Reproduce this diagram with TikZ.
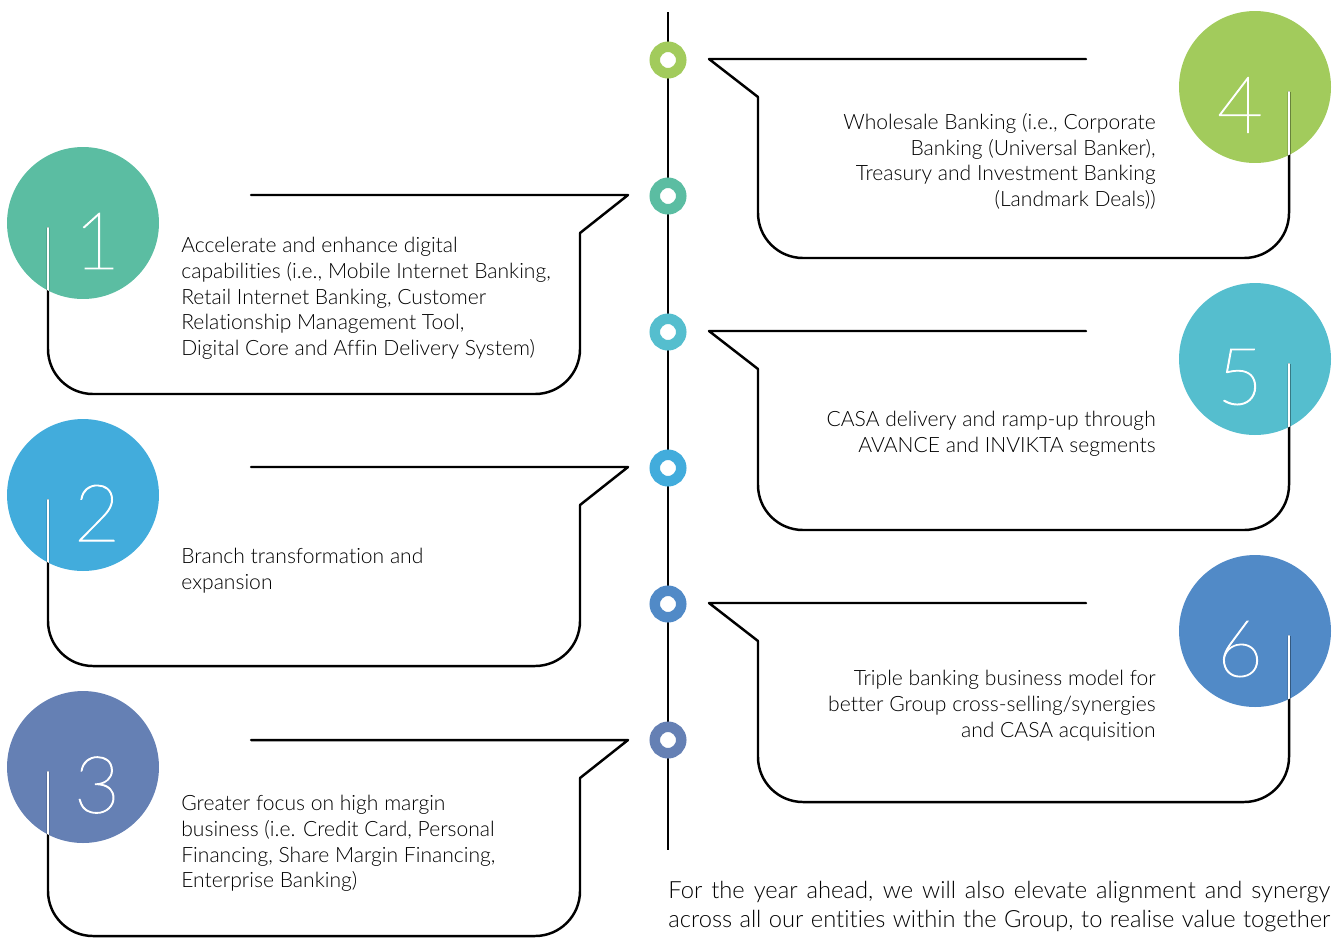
\documentclass[tikz,border=0pt]{standalone}
\usepackage{fontspec}
\setmainfont{Lato Light}[Ligatures=NoCommon]
\newfontfamily\digitfont{Lato Hairline}[FakeBold=1.3]
\usepackage{xcolor}
\usetikzlibrary{positioning,calc}
\definecolor{cone}{HTML}{5BBDA2}
\definecolor{ctwo}{HTML}{42ACDC}
\definecolor{cthree}{HTML}{6580B4}
\definecolor{cfour}{HTML}{A2CB5C}
\definecolor{cfive}{HTML}{55BECE}
\definecolor{csix}{HTML}{518AC7}
\tikzset{
  badge/.style={circle, fill=#1, minimum size=3.04cm, inner sep=0pt},
  digit/.style={text=white, font=\digitfont\fontsize{45}{45}\selectfont, inner sep=0pt},
  ring/.style={circle, draw=#1, fill=white, line width=0.21cm, minimum size=0.53cm, inner sep=0pt},
  bubble/.style={draw=black, line width=1.4pt, line cap=round, line join=round},
  axis/.style={draw=black, line width=1.6pt},
  txt/.style={font=\fontsize{12}{14.6}\selectfont, inner sep=0pt, align=left, anchor=north west},
  rtxt/.style={txt, align=right, anchor=north east},
}
\newcommand{\fullline}[1]{\makebox[13.24cm][s]{#1}}

\begin{document}
\begin{tikzpicture}[x=0.02cm, y=-0.02cm]
    \useasboundingbox (0,0) rectangle (1344,938);
    % timeline
    \coordinate (axtop) at (668,12);
    \coordinate (axbot) at (668,850);
    \draw[axis] (axtop) -- (axbot);
    \node[ring=cfour]  (d4) at (668,60) {};
    \node[ring=cone]   (d1) at (668,196) {};
    \node[ring=cfive]  (d5) at (668,332) {};
    \node[ring=ctwo]   (d2) at (668,468) {};
    \node[ring=csix]   (d6) at (668,604) {};
    \node[ring=cthree] (d3) at (668,740) {};
    % badges
    \node[badge=cone]   (b1) at (83,223) {};
    \node[badge=ctwo]   (b2) at (83,495) {};
    \node[badge=cthree] (b3) at (83,767) {};
    \node[badge=cfour]  (b4) at (1255,87) {};
    \node[badge=cfive]  (b5) at (1255,359) {};
    \node[badge=csix]   (b6) at (1255,631) {};
    \node[digit] (n1) at (97,241) {1};
    \node[digit] (n2) at (97,513) {2};
    \node[digit] (n3) at (97,785) {3};
    \node[digit] (n4) at (1240,105) {4};
    \node[digit] (n5) at (1240,377) {5};
    \node[digit] (n6) at (1240,649) {6};
    % left bubbles
    \draw[bubble, rounded corners=0.9cm] (48,228) -- (48,394) -- (580,394) -- (580,233);
    \draw[bubble] (580,233) -- (628,195) -- (251,195);
    \draw[bubble, rounded corners=0.9cm] (48,500) -- (48,666) -- (580,666) -- (580,505);
    \draw[bubble] (580,505) -- (628,467) -- (251,467);
    \draw[bubble, rounded corners=0.9cm] (48,772) -- (48,936) -- (580,936) -- (580,778);
    \draw[bubble] (580,778) -- (628,740) -- (251,740);
    % right bubbles
    \draw[bubble, rounded corners=0.9cm] (1289,92) -- (1289,258) -- (758,258) -- (758,97);
    \draw[bubble] (758,97) -- (709,59) -- (1086,59);
    \draw[bubble, rounded corners=0.9cm] (1289,364) -- (1289,530) -- (758,530) -- (758,369);
    \draw[bubble] (758,369) -- (709,331) -- (1086,331);
    \draw[bubble, rounded corners=0.9cm] (1289,636) -- (1289,802) -- (758,802) -- (758,641);
    \draw[bubble] (758,641) -- (709,603) -- (1086,603);
    % white part of the tails inside the badges
    \begin{scope}
      \clip (b1.center) circle[radius=1.52cm] (b2.center) circle[radius=1.52cm] (b3.center) circle[radius=1.52cm]
            (b4.center) circle[radius=1.52cm] (b5.center) circle[radius=1.52cm] (b6.center) circle[radius=1.52cm];
      \draw[bubble, draw=white] (48,228) -- (48,320);
      \draw[bubble, draw=white] (48,500) -- (48,592);
      \draw[bubble, draw=white] (48,772) -- (48,864);
      \draw[bubble, draw=white] (1289,92) -- (1289,184);
      \draw[bubble, draw=white] (1289,364) -- (1289,456);
      \draw[bubble, draw=white] (1289,636) -- (1289,728);
    \end{scope}
    % texts
    \node[txt] (t1) at (181,237) {Accelerate and enhance digital\\ capabilities (i.e., Mobile Internet Banking,\\ Retail Internet Banking, Customer\\ Relationship Management Tool,\\ Digital Core and Affin Delivery System)};
    \node[txt] (t2) at (181,548) {Branch transformation and\\ expansion};
    \node[txt] (t3) at (181,795) {Greater focus on high margin\\ business (i.e. Credit Card, Personal\\ Financing, Share Margin Financing,\\ Enterprise Banking)};
    \node[rtxt] (t4) at (1156,113) {Wholesale Banking (i.e., Corporate\\ Banking (Universal Banker),\\ Treasury and Investment Banking\\ (Landmark Deals))};
    \node[rtxt] (t5) at (1156,411) {CASA delivery and ramp-up through\\ AVANCE and INVIKTA segments};
    \node[rtxt] (t6) at (1156,670) {Triple banking business model for\\ better Group cross-selling/synergies\\ and CASA acquisition};
    \node[txt, font=\fontsize{13.5}{16.4}\selectfont] (note) at (668,881)
      {\fullline{For the year ahead, we will also elevate alignment and synergy}\\ \fullline{across all our entities within the Group, to realise value together}};
  \end{tikzpicture}
\end{document}
